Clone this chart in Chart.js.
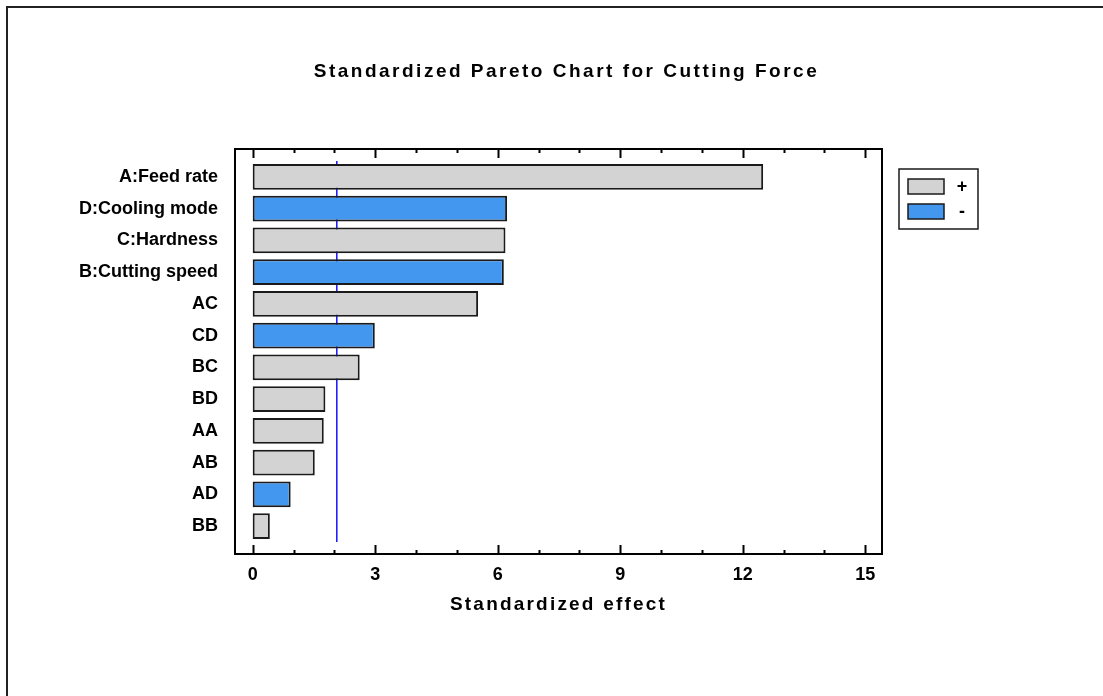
<!DOCTYPE html>
<html>
<head>
<meta charset="utf-8">
<title>Standardized Pareto Chart for Cutting Force</title>
<script src="https://cdn.jsdelivr.net/npm/chart.js@4.4.1/dist/chart.umd.min.js"></script>
<style>
  html, body { margin: 0; padding: 0; background: #fff; }
  canvas { display: block; }
</style>
</head>
<body>
<canvas id="pareto" width="1103" height="696"></canvas>
<script>
// Effects, ordered from largest to smallest
const factors = ['A:Feed rate', 'D:Cooling mode', 'C:Hardness', 'B:Cutting speed',
                 'AC', 'CD', 'BC', 'BD', 'AA', 'AB', 'AD', 'BB'];
const effects = [12.50, 6.23, 6.19, 6.15, 5.52, 2.99, 2.62, 1.78, 1.74, 1.52, 0.93, 0.42];
const signs   = ['+', '-', '+', '-', '+', '-', '+', '+', '+', '+', '-', '+'];
const criticalEffect = 2.06;

// Axis ticks: a mark at every unit, a label every third unit
const xTickValues = [0, 1, 2, 3, 4, 5, 6, 7, 8, 9, 10, 11, 12, 13, 14, 15];
const xTickLabels = ['0', '3', '6', '9', '12', '15'];

const FONT = "'Liberation Sans', Arial, Helvetica, sans-serif";
const INK = '#000000';
const EDGE = '#1a1a1a';
const signColors = { '+': '#d3d3d3', '-': '#4497ee' };

function pointsFor(sign) {
  const pts = [];
  factors.forEach((f, i) => { if (signs[i] === sign) pts.push({ x: effects[i], y: i }); });
  return pts;
}

function barSet(sign) {
  return {
    type: 'bar',
    label: sign,
    data: pointsFor(sign),
    backgroundColor: signColors[sign],
    borderColor: EDGE,
    borderWidth: 2,
    borderSkipped: false,
    grouped: false,
    barPercentage: 0.9,
    categoryPercentage: 0.9
  };
}

// Page frame, plot box, inward tick marks and the sign legend
const decorations = {
  id: 'decorations',
  beforeDraw(chart) {
    const c = chart.ctx;
    c.save();
    c.fillStyle = '#fff';
    c.fillRect(0, 0, chart.width, chart.height);
    c.strokeStyle = '#222';
    c.lineWidth = 2;
    c.beginPath();
    c.moveTo(6, 7); c.lineTo(chart.width, 7);
    c.moveTo(7, 6); c.lineTo(7, chart.height);
    c.stroke();
    c.restore();
  },
  afterDraw(chart) {
    const c = chart.ctx;
    const a = chart.chartArea;
    const xs = chart.scales.x;
    c.save();
    c.strokeStyle = INK;
    c.lineWidth = 2;
    c.strokeRect(a.left, a.top, a.right - a.left, a.bottom - a.top);
    c.beginPath();
    xTickValues.forEach(v => {
      const px = Math.round(xs.getPixelForValue(v)) + 0.5;
      const len = xTickLabels.includes(String(v)) ? 9 : 4;
      c.moveTo(px, a.bottom); c.lineTo(px, a.bottom - len);
      c.moveTo(px, a.top); c.lineTo(px, a.top + len);
    });
    c.stroke();

    // legend box
    const box = { x: 899, y: 169, w: 79, h: 60 };
    c.lineWidth = 1.5;
    c.strokeStyle = EDGE;
    c.strokeRect(box.x, box.y, box.w, box.h);
    const bars = chart.data.datasets.filter(d => d.type === 'bar');
    c.font = 'bold 18px ' + FONT;
    c.textAlign = 'center';
    c.textBaseline = 'middle';
    bars.forEach((d, i) => {
      const sy = box.y + 10 + i * 25;
      c.fillStyle = d.backgroundColor;
      c.fillRect(box.x + 9, sy, 36, 15);
      c.strokeStyle = EDGE;
      c.lineWidth = 1.5;
      c.strokeRect(box.x + 9, sy, 36, 15);
      c.fillStyle = INK;
      c.fillText(d.label, box.x + 63, sy + 8);
    });
    c.restore();
  }
};

// Wider letter spacing for the chart title and the axis title
const spacedText = {
  id: 'spacedText',
  beforeDraw(chart) {
    const wrap = (obj, key, spacing) => {
      if (!obj || obj['_spaced_' + key]) return;
      const orig = obj[key];
      obj[key] = function (...args) {
        const c = chart.ctx;
        const prev = c.letterSpacing;
        c.letterSpacing = spacing;
        const r = orig.apply(this, args);
        c.letterSpacing = prev;
        return r;
      };
      obj['_spaced_' + key] = true;
    };
    wrap(chart.titleBlock, 'draw', '2.5px');
    wrap(chart.scales.x, 'drawTitle', '2.2px');
  }
};

new Chart(document.getElementById('pareto'), {
  type: 'bar',
  data: {
    datasets: [
      barSet('+'),
      barSet('-'),
      {
        type: 'line',
        label: 'critical',
        data: [{ x: criticalEffect, y: -0.5 }, { x: criticalEffect, y: factors.length - 0.5 }],
        borderColor: '#1414ff',
        borderWidth: 1.5,
        pointRadius: 0,
        fill: false
      }
    ]
  },
  plugins: [decorations, spacedText],
  options: {
    indexAxis: 'y',
    responsive: false,
    animation: false,
    events: [],
    layout: { padding: { left: 30, right: 0, top: 0, bottom: 0 } },
    plugins: {
      legend: { display: false },
      tooltip: { enabled: false },
      title: {
        display: true,
        text: 'Standardized Pareto Chart for Cutting Force',
        color: INK,
        font: { family: FONT, size: 19, weight: 'bold', lineHeight: 1.2 },
        padding: { top: 60.5, bottom: 65.7 }
      }
    },
    scales: {
      x: {
        type: 'linear',
        position: 'bottom',
        offset: false,
        min: -0.433,
        max: 15.41,
        grid: { display: false, drawTicks: false, offset: false },
        border: { display: false },
        afterBuildTicks(s) { s.ticks = xTickValues.map(v => ({ value: v })); },
        afterFit(s) { s.height = 142; },
        ticks: {
          autoSkip: false,
          maxRotation: 0,
          padding: 10,
          color: INK,
          font: { family: FONT, size: 18, weight: 'bold' },
          callback: v => (xTickLabels.includes(String(v)) ? String(v) : '')
        },
        title: {
          display: true,
          text: 'Standardized effect',
          color: INK,
          font: { family: FONT, size: 19, weight: 'bold', lineHeight: 1.2 },
          padding: { top: 0, bottom: 79.5 }
        }
      },
      y: {
        type: 'linear',
        position: 'left',
        reverse: true,
        offset: false,
        min: -0.88,
        max: factors.length - 1 + 0.88,
        grid: { display: false, drawTicks: false, offset: false },
        border: { display: false },
        afterBuildTicks(s) { s.ticks = factors.map((f, i) => ({ value: i })); },
        afterFit(s) { s.width = 205; },
        ticks: {
          autoSkip: false,
          padding: 17,
          color: INK,
          font: { family: FONT, size: 18, weight: 'bold' },
          callback: v => factors[v]
        }
      },
      side: {
        type: 'linear',
        axis: 'y',
        position: 'right',
        display: true,
        grid: { display: false, drawTicks: false },
        border: { display: false },
        ticks: { display: false },
        afterFit(s) { s.width = 221; }
      }
    }
  }
});
</script>
</body>
</html>
